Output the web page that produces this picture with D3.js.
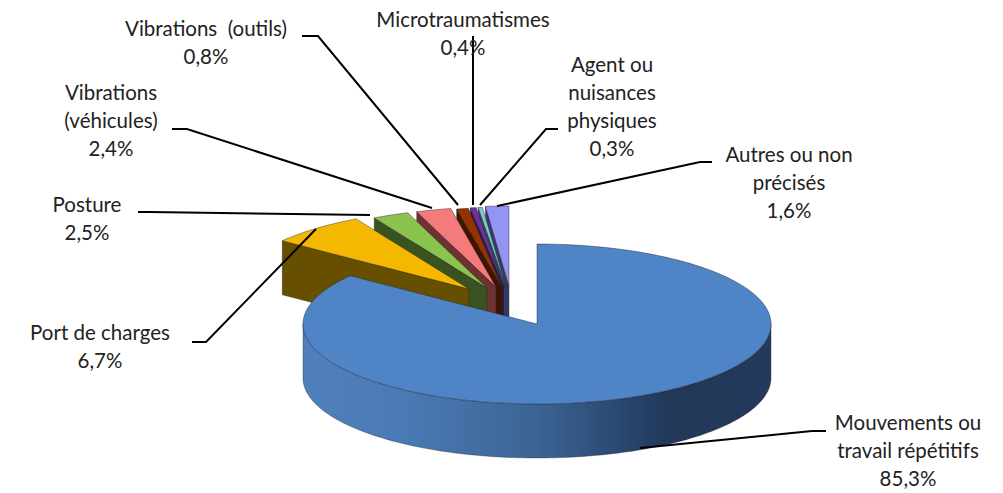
<!DOCTYPE html>
<html><head><meta charset="utf-8">
<script src="https://cdnjs.cloudflare.com/ajax/libs/d3/7.8.5/d3.min.js"></script>
<style>html,body{margin:0;background:#fff}svg{display:block}
text{font-family:"Lato",sans-serif;font-size:20.5px;fill:#222;text-anchor:middle}</style></head><body>
<svg id="c" width="1003" height="493"></svg>
<script>
const categories=["Mouvements ou travail répétitifs","Port de charges","Posture","Vibrations (véhicules)","Vibrations (outils)","Microtraumatismes","Agent ou nuisances physiques","Autres ou non précisés"];
const values=[85.3,6.7,2.5,2.4,0.8,0.4,0.3,1.6];
const topColors=["#4f84c6","#f5b800","#8ac44e","#f57a7c","#953200","#7030a0","#7fc9d6","#9494f4"];
const wallColors=["#4f80bd","#665000","#3a521f","#6e3232","#3f1500","#2e1a5a","#33505a","#3a3a6a"];
const offsets=[[0,0],[-68,-35],[-50,-36],[-41,-37],[-35,-36.5],[-33,-37],[-31,-37],[-28,-38]];
const labelLines=[["Mouvements ou","travail répétitifs","85,3%"],["Port de charges","6,7%"],["Posture","2,5%"],["Vibrations","(véhicules)","2,4%"],["Vibrations  (outils)","0,8%"],["Microtraumatismes","0,4%"],["Agent ou","nuisances","physiques","0,3%"],["Autres ou non","précisés","1,6%"]];
const labelPos=[[908,430],[100,340],[87,212],[111,100],[206,36],[463,27],[612,72],[789,162]];
const leaders=[[[640,448],[812,431],[826,431]],[[316,229],[206,342],[192,342]],[[370,215],[150,212],[138,212]],[[432,208],[187,129],[172,129]],[[458,205],[318,36],[302,36]],[[473,205],[473,48],[473,36]],[[480,205],[546,129],[558,129]],[[497,206],[700,162],[712,162]]];

const cx=537,cy=324,rx=234,ry=80,depth=54;
const svg=d3.select("#c");
const arcs=d3.pie().sort(null).value(d=>d)(values);
const px=d3.scaleLinear().domain([-1,1]).range([-rx,rx]);
const py=d3.scaleLinear().domain([-1,1]).range([-ry,ry]);
const pt=(a,o,dz=0)=>[cx+o[0]+px(Math.sin(a)),cy+o[1]-py(Math.cos(a))+dz];
const sweep=(a0,a1,o,dz=0)=>{const n=Math.max(2,Math.ceil((a1-a0)/0.02));return d3.range(n+1).map(i=>pt(a0+(a1-a0)*i/n,o,dz));};
const line=d3.line().curve(d3.curveLinear);

const defs=svg.append("defs");
const g=defs.append("linearGradient").attr("id","wall").attr("gradientUnits","userSpaceOnUse").attr("x1",cx-rx).attr("x2",cx+rx).attr("y1",0).attr("y2",0);
[[0,"#4f80bd"],[.2,"#4a7bb6"],[.5,"#3c6494"],[.7,"#28446d"],[.78,"#213858"],[1,"#233a5c"]].forEach(s=>g.append("stop").attr("offset",s[0]).attr("stop-color",s[1]));

// exploded slices: back-right ones first, main slice last
d3.range(arcs.length-1,0,-1).forEach(i=>{
  const a=arcs[i],o=offsets[i],apex=[cx+o[0],cy+o[1]];
  const corner=pt(a.startAngle,o);
  svg.append("path").attr("d",line([corner,apex,[apex[0],apex[1]+depth],[corner[0],corner[1]+depth]])+"Z")
    .attr("fill",wallColors[i]).attr("stroke","#222").attr("stroke-opacity",.55).attr("stroke-width",.8);
  svg.append("path").attr("d",line([apex,...sweep(a.startAngle,a.endAngle,o)])+"Z")
    .attr("fill",topColors[i]).attr("stroke","#222").attr("stroke-opacity",.55).attr("stroke-width",.8);
});
// main slice
const m=arcs[0],o0=offsets[0];
const wa0=Math.PI/2,wa1=3*Math.PI/2;
svg.append("path").attr("d",line([...sweep(wa0,wa1,o0),...sweep(wa0,wa1,o0,depth).reverse()])+"Z")
  .attr("fill","url(#wall)").attr("stroke","#222").attr("stroke-opacity",.45).attr("stroke-width",.8);
svg.append("path").attr("d",line([[cx,cy],...sweep(m.startAngle,m.endAngle,o0)])+"Z")
  .attr("fill",topColors[0]).attr("stroke","#223").attr("stroke-opacity",.55).attr("stroke-width",.8);

// leaders
leaders.forEach(l=>svg.append("path").attr("d",line(l)).attr("fill","none").attr("stroke","#000").attr("stroke-width",2));
// labels
labelLines.forEach((ls,i)=>{
  const t=svg.append("text").attr("x",labelPos[i][0]).attr("y",labelPos[i][1]);
  ls.forEach((s,j)=>t.append("tspan").attr("x",labelPos[i][0]).attr("dy",j?28:0).attr("xml:space","preserve").text(s));
});
</script></body></html>
